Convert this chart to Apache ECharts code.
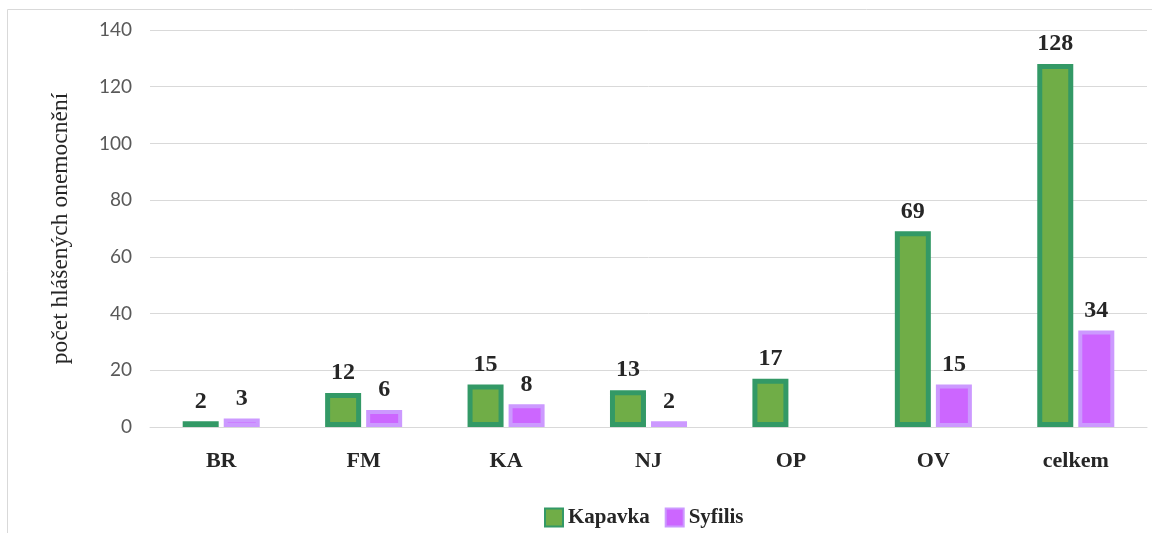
<!DOCTYPE html>
<html>
<head>
<meta charset="utf-8">
<script src="https://cdn.jsdelivr.net/npm/echarts@6/dist/echarts.min.js"></script>
<style>
html,body{margin:0;padding:0;background:#fff;}
#chart{width:1152px;height:533px;}
</style>
</head>
<body>
<div id="chart"></div>
<script>
const categories = ['BR', 'FM', 'KA', 'NJ', 'OP', 'OV', 'celkem'];
const kapavka = [2, 12, 15, 13, 17, 69, 128];
const syfilis = [3, 6, 8, 2, null, 15, 34];
const yAxisName = 'počet hlášených onemocnění';
const seriesNames = ['Kapavka', 'Syfilis'];

const chart = echarts.init(document.getElementById('chart'), null, {renderer: 'canvas'});
const serif = '"Liberation Serif", "DejaVu Serif", serif';
const labelStyle = {
  show: true,
  position: 'top',
  distance: 8,
  fontFamily: serif,
  fontWeight: 'bold',
  fontSize: 24,
  color: '#262626'
};
chart.setOption({
  animation: false,
  graphic: [{
    type: 'rect',
    shape: {x: 7.5, y: 9.5, width: 1300, height: 700},
    style: {fill: 'none', stroke: '#d9d9d9', lineWidth: 1},
    silent: true,
    z: -1
  }],
  grid: {left: 150, right: 5, top: 30, bottom: 106, containLabel: false},
  legend: {
    bottom: 0,
    left: 539,
    itemWidth: 18,
    itemHeight: 18,
    itemGap: 15,
    textStyle: {fontFamily: serif, fontWeight: 'bold', fontSize: 21, color: '#262626'},
    data: [
      {name: seriesNames[0], icon: 'rect'},
      {name: seriesNames[1], icon: 'rect'}
    ]
  },
  xAxis: {
    type: 'category',
    data: categories,
    axisLine: {lineStyle: {color: '#d9d9d9', width: 1}},
    axisTick: {show: false},
    axisLabel: {fontFamily: serif, fontWeight: 'bold', fontSize: 22, color: '#262626', margin: 23}
  },
  yAxis: {
    type: 'value',
    min: 0,
    max: 140,
    interval: 20,
    name: yAxisName,
    nameLocation: 'middle',
    nameGap: 77,
    nameTextStyle: {fontFamily: serif, fontSize: 23.5, color: '#262626'},
    axisLine: {show: false},
    axisTick: {show: false},
    axisLabel: {fontFamily: 'Lato, "Open Sans", sans-serif', fontSize: 19, color: '#595959', margin: 18},
    splitLine: {lineStyle: {color: '#d9d9d9', width: 1}}
  },
  series: [
    {
      name: seriesNames[0],
      type: 'bar',
      data: kapavka,
      barWidth: 36,
      barGap: '14%',
      itemStyle: {color: '#70AD47', borderColor: '#339966', borderWidth: 5},
      label: labelStyle
    },
    {
      name: seriesNames[1],
      type: 'bar',
      data: syfilis,
      barWidth: 36,
      itemStyle: {color: '#CC66FF', borderColor: '#CC99FF', borderWidth: 4},
      label: labelStyle
    }
  ]
});
</script>
</body>
</html>
